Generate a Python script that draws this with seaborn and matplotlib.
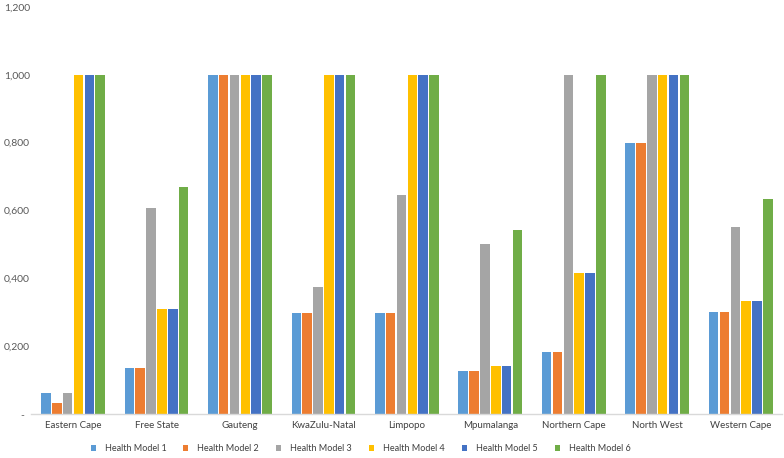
import numpy as np
import pandas as pd
import matplotlib
matplotlib.use("Agg")
import matplotlib.pyplot as plt
import seaborn as sns

# ─ Data ─────────────────────────────────────────────────────────────── #
provinces = ["Eastern Cape", "Free State", "Gauteng", "KwaZulu-Natal", "Limpopo",
             "Mpumalanga", "Northern Cape", "North West", "Western Cape"]
models = ["Health Model 1", "Health Model 2", "Health Model 3",
          "Health Model 4", "Health Model 5", "Health Model 6"]

model_1 = [0.062, 0.136, 1.0, 0.298, 0.298, 0.128, 0.183, 0.800, 0.300]
model_2 = [0.032, 0.136, 1.0, 0.298, 0.298, 0.128, 0.183, 0.800, 0.300]
model_3 = [0.062, 0.606, 1.0, 0.375, 0.647, 0.502, 1.000, 1.000, 0.552]
model_4 = [1.000, 0.311, 1.0, 1.000, 1.000, 0.142, 0.416, 1.000, 0.332]
model_5 = [1.000, 0.311, 1.0, 1.000, 1.000, 0.142, 0.416, 1.000, 0.332]
model_6 = [1.000, 0.668, 1.0, 1.000, 1.000, 0.542, 1.000, 1.000, 0.634]

COLORS = ["#5B9BD5", "#ED7D31", "#A5A5A5", "#FFC000", "#4472C4", "#70AD47"]

# ─ Long form table ──────────────────────────────────────────────────── #
series = [model_1, model_2, model_3, model_4, model_5, model_6]
df = pd.DataFrame(
    [(p, m, v) for m, vals in zip(models, series) for p, v in zip(provinces, vals)],
    columns=["Province", "Model", "Value"],
)

sns.set_style("white")
plt.rcParams["font.family"] = ["Lato", "DejaVu Sans"]

fig = plt.figure(figsize=(7.84, 4.58), dpi=100)
ax = fig.add_axes([0.04, 0.096, 0.958, 0.889])

sns.barplot(data=df, x="Province", y="Value", hue="Model", order=provinces,
            hue_order=models, palette=COLORS, width=0.78, gap=0.12,
            saturation=1, linewidth=0, ax=ax)

ax.set_ylim(0, 1.2)
ax.set_xlim(-0.5, len(provinces) - 0.5)
yt = np.arange(0, 1.21, 0.2)
ax.set_yticks(yt)
ax.set_yticklabels(["-  "] + [f"{v:.3f}".replace(".", ",") for v in yt[1:]])
ax.tick_params(axis="y", labelsize=7.5, labelcolor="#595959", length=0, pad=1)
ax.tick_params(axis="x", labelsize=7, labelcolor="#404040", length=0, pad=5)
ax.set_xlabel("")
ax.set_ylabel("")
for s in ["top", "right", "left"]:
    ax.spines[s].set_visible(False)
ax.spines["bottom"].set_color("#D9D9D9")
ax.spines["bottom"].set_linewidth(1)

handles, labels = ax.get_legend_handles_labels()
ax.legend_.remove()
fig.legend(handles, labels, loc="center", bbox_to_anchor=(0.46, 0.02), ncol=6,
           frameon=False, fontsize=6.5, handlelength=0.55, handleheight=0.55,
           columnspacing=1.9, handletextpad=1.0, labelcolor="#404040")

fig.savefig("out.png", dpi=100)
